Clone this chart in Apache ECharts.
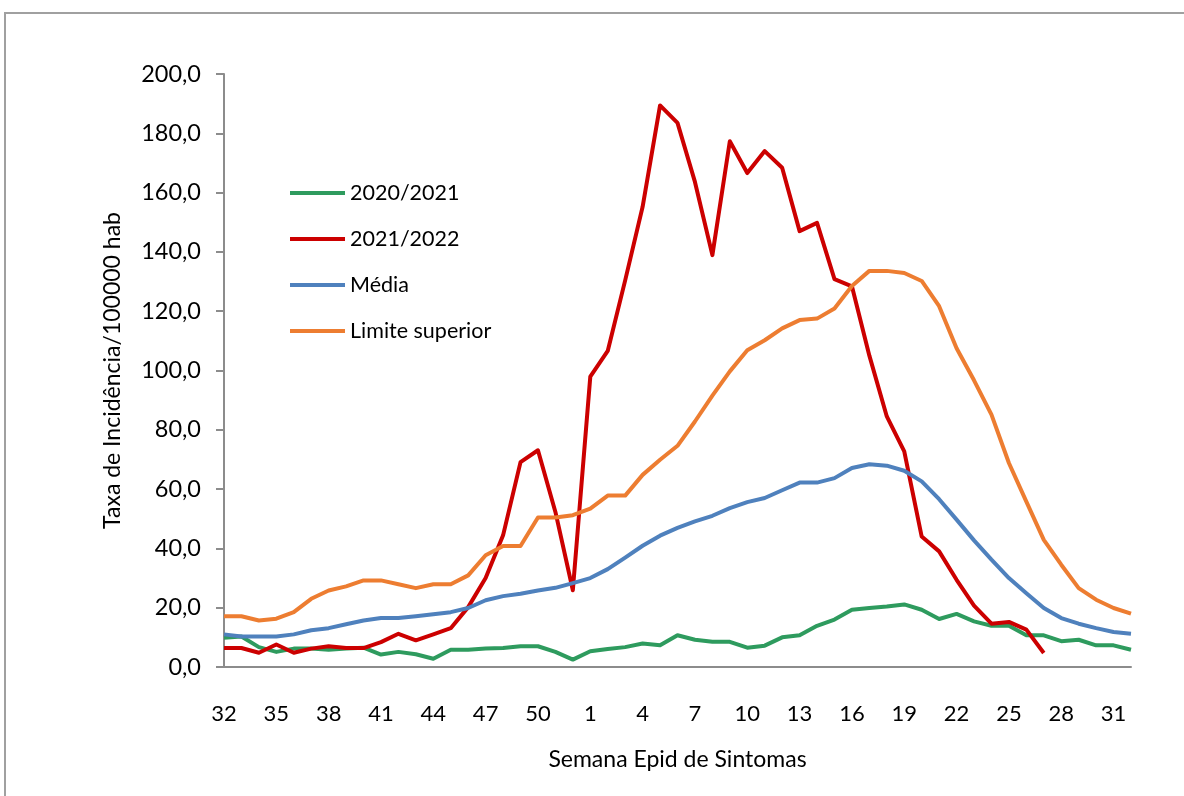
<!DOCTYPE html>
<html>
<head>
<meta charset="utf-8">
<script src="https://cdn.jsdelivr.net/npm/echarts@6/dist/echarts.min.js"></script>
<style>
    html, body { margin: 0; padding: 0; background: #fff; }
    #chart { width: 1184px; height: 796px; }
</style>
</head>
<body>
<div id="chart"></div>
<script>
// semanas epidemiológicas 32..52, 1..32
const weeks = ['32', '33', '34', '35', '36', '37', '38', '39', '40', '41', '42', '43', '44', '45', '46', '47', '48', '49', '50', '51', '52',
    '1', '2', '3', '4', '5', '6', '7', '8', '9', '10', '11', '12', '13', '14', '15', '16', '17', '18', '19', '20',
    '21', '22', '23', '24', '25', '26', '27', '28', '29', '30', '31', '32'];

const s2020 = [9.9, 10.3, 6.7, 5.1, 6.2, 6.2, 5.8, 6.2, 6.5, 4.2, 5.1, 4.3, 2.8, 5.8, 5.8, 6.2, 6.4, 7.0, 7.0, 5.1, 2.5,
    5.3, 6.1, 6.7, 7.9, 7.3, 10.7, 9.2, 8.5, 8.5, 6.5, 7.2, 10.0, 10.7, 13.9, 16.0, 19.3, 19.9, 20.4, 21.1, 19.3,
    16.2, 17.9, 15.4, 13.9, 13.9, 10.7, 10.7, 8.7, 9.2, 7.3, 7.3, 5.8];

const s2021 = [6.4, 6.4, 4.8, 7.6, 4.8, 6.2, 7.0, 6.4, 6.4, 8.4, 11.2, 9.0, 11.0, 13.1, 20.2, 30.0, 44.4, 69.1, 73.1, 52.3, 25.9,
    97.9, 106.6, 130.4, 155.2, 189.4, 183.5, 163.6, 138.9, 177.3, 166.6, 174.0, 168.4, 147.0, 149.8, 130.8, 128.4, 105.0, 84.5, 72.7, 44.0,
    39.0, 29.4, 20.7, 14.6, 15.2, 12.6, 4.7, null, null, null, null, null];

const media = [11.0, 10.3, 10.3, 10.3, 11.0, 12.4, 13.1, 14.4, 15.7, 16.5, 16.5, 17.1, 17.8, 18.5, 19.9, 22.5, 23.9, 24.7, 25.8, 26.7, 28.3,
    30.0, 33.0, 36.9, 40.9, 44.3, 46.9, 49.1, 51.0, 53.6, 55.6, 57.0, 59.6, 62.2, 62.2, 63.7, 67.1, 68.4, 67.9, 66.2, 62.6,
    56.6, 49.7, 42.7, 36.2, 30.0, 24.9, 19.9, 16.5, 14.6, 13.1, 11.8, 11.2];

const limite = [17.1, 17.1, 15.7, 16.3, 18.5, 23.0, 25.8, 27.2, 29.2, 29.2, 27.9, 26.6, 27.9, 27.9, 30.9, 37.7, 40.8, 40.8, 50.4, 50.4, 51.2,
    53.4, 57.8, 57.8, 64.8, 69.9, 74.6, 82.8, 91.5, 99.7, 106.8, 110.2, 114.2, 117.0, 117.5, 120.9, 128.5, 133.6, 133.6, 132.9, 130.2,
    121.7, 107.5, 96.7, 85.1, 68.8, 55.8, 42.9, 34.5, 26.6, 22.7, 19.9, 18.0];

const seriesDefs = [
    { name: '2020/2021', data: s2020, color: '#2E9B5E' },
    { name: '2021/2022', data: s2021, color: '#CC0000' },
    { name: 'Média', data: media, color: '#4F81BD' },
    { name: 'Limite superior', data: limite, color: '#ED7D31' }
];

const fontFamily = 'Lato, "Open Sans", sans-serif';
const axisGray = '#8c8c8c';

const chart = echarts.init(document.getElementById('chart'));
chart.setOption({
    animation: false,
    backgroundColor: '#fff',
    textStyle: { fontFamily: fontFamily },
    graphic: [
        {
            type: 'rect',
            shape: { x: 5, y: 13, width: 1200, height: 800 },
            style: { fill: 'none', stroke: '#a0a0a0', lineWidth: 2 },
            silent: true
        }
    ],
    grid: {
        left: 224,
        right: 53,
        top: 74,
        bottom: 129
    },
    legend: {
        orient: 'vertical',
        left: 285,
        top: 177,
        icon: 'rect',
        itemWidth: 55,
        itemHeight: 4,
        itemGap: 24,
        textStyle: { fontSize: 21.5, color: '#000', fontFamily: fontFamily, lineHeight: 21 },
        data: seriesDefs.map(s => s.name)
    },
    xAxis: {
        type: 'category',
        boundaryGap: false,
        data: weeks,
        name: 'Semana Epid de Sintomas',
        nameLocation: 'middle',
        nameGap: 81,
        nameTextStyle: { fontSize: 23, color: '#000' },
        axisLine: { lineStyle: { color: axisGray, width: 2 } },
        axisTick: { show: false },
        axisLabel: { interval: 2, margin: 36, fontSize: 22, color: '#000' },
        splitLine: { show: false }
    },
    yAxis: {
        type: 'value',
        min: 0,
        max: 200,
        interval: 20,
        name: 'Taxa de Incidência/100000 hab',
        nameLocation: 'middle',
        nameGap: 100,
        nameTextStyle: { fontSize: 23, color: '#000' },
        axisLine: { show: true, lineStyle: { color: axisGray, width: 2 } },
        axisTick: { show: true, length: 8, lineStyle: { color: axisGray, width: 2 } },
        axisLabel: {
            margin: 23,
            fontSize: 23.5,
            color: '#000',
            formatter: v => v.toFixed(1).replace('.', ',')
        },
        splitLine: { show: false }
    },
    series: seriesDefs.map(s => ({
        name: s.name,
        type: 'line',
        data: s.data,
        symbol: 'none',
        showSymbol: false,
        connectNulls: false,
        itemStyle: { color: s.color },
        lineStyle: { color: s.color, width: 4, join: 'round' }
    }))
});
</script>
</body>
</html>
